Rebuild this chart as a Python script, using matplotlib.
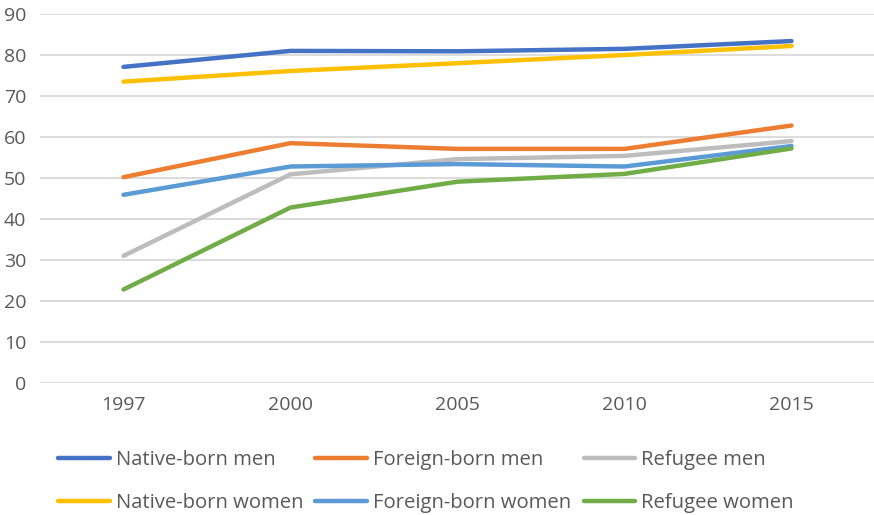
import matplotlib
matplotlib.use("Agg")
import matplotlib.pyplot as plt

plt.rcParams['font.family'] = ['Open Sans', 'DejaVu Sans']

years = ["1997", "2000", "2005", "2010", "2015"]

native_men = [77.1, 81.0, 80.9, 81.5, 83.4]
foreign_men = [50.2, 58.5, 57.1, 57.1, 62.8]
refugee_men = [31.0, 50.9, 54.6, 55.4, 59.0]
native_women = [73.5, 76.1, 78.0, 80.0, 82.2]
foreign_women = [45.9, 52.8, 53.4, 52.8, 57.8]
refugee_women = [22.8, 42.8, 49.1, 51.0, 57.2]

series = [
    ("Native-born men", native_men, "#4472C4"),
    ("Foreign-born men", foreign_men, "#ED7D31"),
    ("Refugee men", refugee_men, "#BDBDBD"),
    ("Native-born women", native_women, "#FFC000"),
    ("Foreign-born women", foreign_women, "#5B9BD5"),
    ("Refugee women", refugee_women, "#70AD47"),
]

fig = plt.figure(figsize=(8.74, 5.15), dpi=100)
ax = fig.add_axes([40 / 874, 1 - 383 / 515, 835 / 874, (383 - 14) / 515])

x = list(range(len(years)))
handles = {}
for label, vals, color in series:
    line, = ax.plot(x, vals, color=color, lw=3.2, solid_capstyle='round',
                    solid_joinstyle='round', label=label)
    handles[label] = line

ax.set_xlim(-0.5, len(years) - 0.5)
ax.set_ylim(0, 90)
ax.set_yticks(range(0, 91, 10))
ax.set_xticks(x)
ax.set_xticklabels(years)
ax.grid(axis='y', color='#D9D9D9', lw=1.3)
ax.set_axisbelow(True)
for s in ax.spines.values():
    s.set_visible(False)
ax.tick_params(axis='both', length=0, labelsize=14, colors='#595959')
ax.tick_params(axis='y', pad=10)
ax.tick_params(axis='x', pad=9)

# legend rows read across: men on the first row, women on the second
order = ["Native-born men", "Native-born women",
         "Foreign-born men", "Foreign-born women",
         "Refugee men", "Refugee women"]
leg = fig.legend([handles[k] for k in order], order, ncol=3,
                 loc='upper left', bbox_to_anchor=(58 / 874, 1 - 450 / 515),
                 frameon=False, fontsize=14.6, handlelength=2.55,
                 handletextpad=0.3, columnspacing=0.6, labelspacing=1.15,
                 borderaxespad=0, borderpad=0)
for t in leg.get_texts():
    t.set_color('#595959')

fig.savefig("out.png", dpi=100)
